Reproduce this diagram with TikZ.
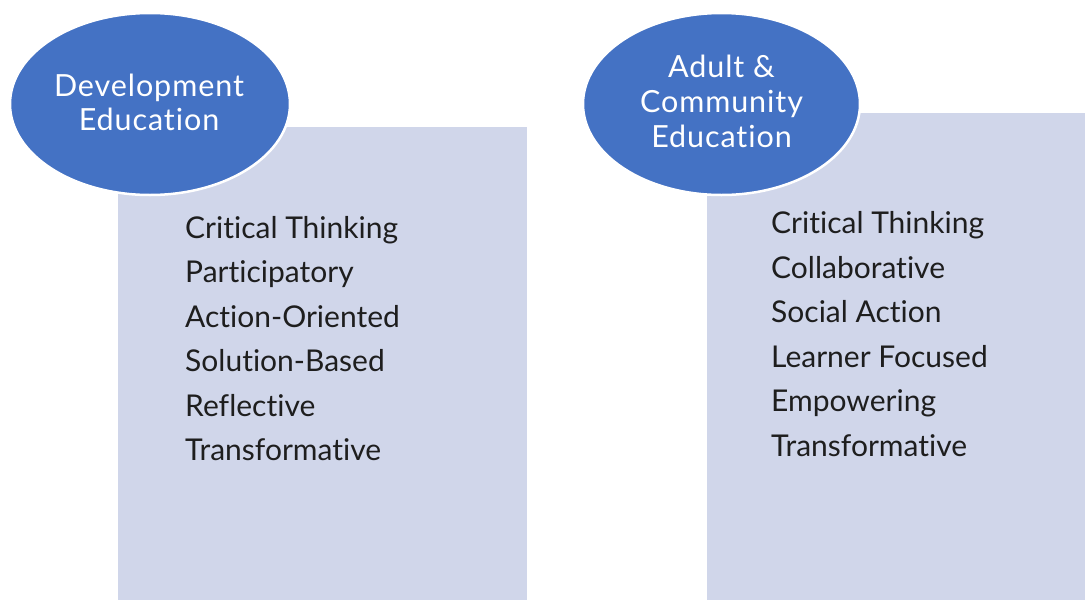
\documentclass[tikz,border=0pt]{standalone}
\usepackage{fontspec}
\setmainfont{Lato}[Ligatures={NoCommon,NoDiscretionary,NoContextual}]
\newfontfamily\headfont{Lato}[Ligatures={NoCommon,NoDiscretionary,NoContextual},LetterSpace=3]
\usetikzlibrary{shapes.geometric}
\definecolor{ellblue}{HTML}{4472C4}
\definecolor{panel}{HTML}{D0D6EA}
\definecolor{txt}{HTML}{1E1E1E}
\tikzset{
  panelbox/.style={fill=panel, draw=none},
  headell/.style={ellipse, fill=ellblue, draw=white, line width=2.5pt, inner sep=0pt},
  headtxt/.style={text=white, font=\headfont\fontsize{30.5}{34}\selectfont, anchor=base, inner sep=0pt},
  itemtxt/.style={text=txt, font=\fontsize{30}{36}\selectfont, anchor=base west, inner sep=0pt}
}
\begin{document}
\begin{tikzpicture}[x=1pt,y=-1pt]
\useasboundingbox (0,0) rectangle (1085,600);
\fill[white] (0,0) rectangle (1085,600);
% panels
\path[panelbox] (118,127) rectangle (527,600);
\path[panelbox] (707,113) rectangle (1085,600);
% ellipses
\node[headell, minimum width=280pt, minimum height=182pt] (el) at (150,104) {};
\node[headell, minimum width=277pt, minimum height=182pt] (er) at (721.5,104) {};
% ellipse texts
\node[headtxt] (el1) at (149,96) {Development};
\node[headtxt] (el2) at (149,130) {Education};
\node[headtxt] (er1) at (721.5,77.5) {Adult \&};
\node[headtxt] (er2) at (721.5,112.5) {Community};
\node[headtxt] (er3) at (721.5,147.5) {Education};
% left list
\node[itemtxt] (l1) at (185,238.3) {Critical Thinking};
\node[itemtxt] (l2) at (185,282.8) {Participatory};
\node[itemtxt] (l3) at (185,327.3) {Action-Oriented};
\node[itemtxt] (l4) at (185,371.8) {Solution-Based};
\node[itemtxt] (l5) at (185,416.3) {Reflective};
\node[itemtxt] (l6) at (185,460.8) {Transformative};
% right list
\node[itemtxt] (r1) at (771,233.5) {Critical Thinking};
\node[itemtxt] (r2) at (771,278) {Collaborative};
\node[itemtxt] (r3) at (771,322.5) {Social Action};
\node[itemtxt] (r4) at (771,367) {Learner Focused};
\node[itemtxt] (r5) at (771,411.5) {Empowering};
\node[itemtxt] (r6) at (771,456) {Transformative};
\end{tikzpicture}
\end{document}
